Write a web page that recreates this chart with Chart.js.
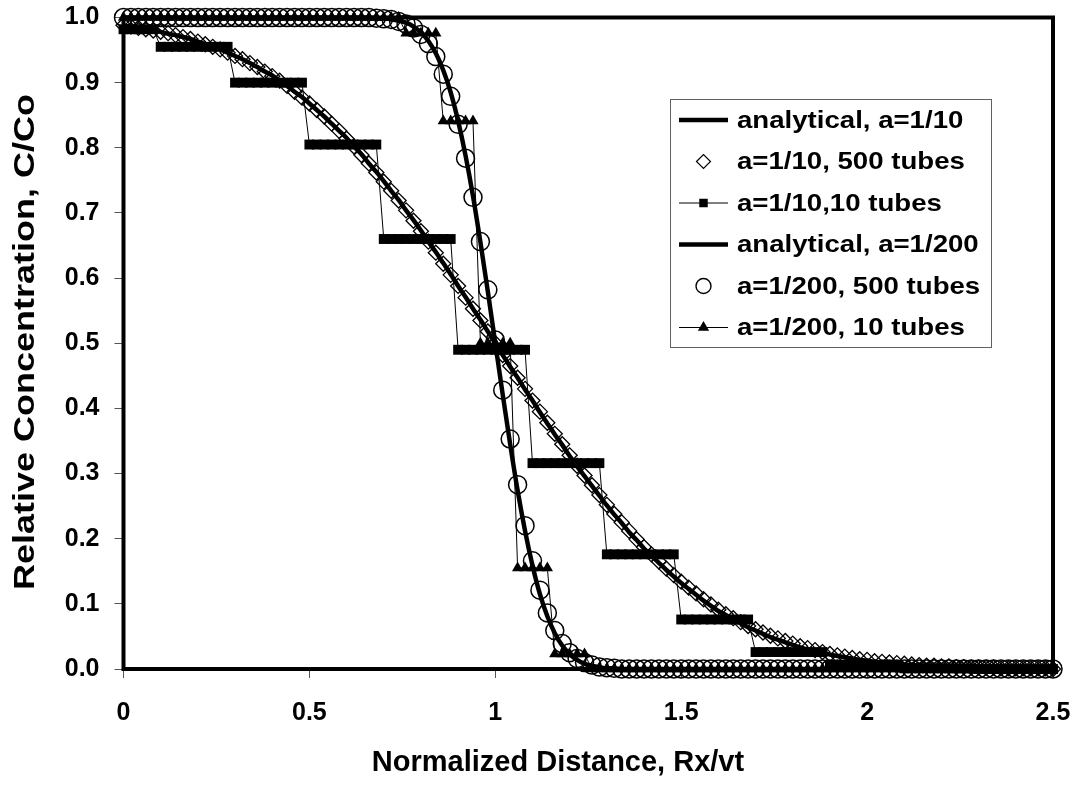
<!DOCTYPE html>
<html>
<head>
<meta charset="utf-8">
<script src="https://cdn.jsdelivr.net/npm/chart.js@4.4.1/dist/chart.umd.min.js"></script>
<style>
html, body { margin: 0; padding: 0; background: #fff; }
canvas { display: block; }
</style>
</head>
<body>
<canvas id="chart" width="1078" height="786"></canvas>
<script>
// normalized distance grid (Rx/vt)
const distance = [0,0.02,0.04,0.06,0.08,0.1,0.12,0.14,0.16,0.18,0.2,0.22,0.24,0.26,0.28,0.3,0.32,0.34,0.36,0.38,
  0.4,0.42,0.44,0.46,0.48,0.5,0.52,0.54,0.56,0.58,0.6,0.62,0.64,0.66,0.68,0.7,0.72,0.74,0.76,0.78,
  0.8,0.82,0.84,0.86,0.88,0.9,0.92,0.94,0.96,0.98,1,1.02,1.04,1.06,1.08,1.1,1.12,1.14,1.16,1.18,
  1.2,1.22,1.24,1.26,1.28,1.3,1.32,1.34,1.36,1.38,1.4,1.42,1.44,1.46,1.48,1.5,1.52,1.54,1.56,1.58,
  1.6,1.62,1.64,1.66,1.68,1.7,1.72,1.74,1.76,1.78,1.8,1.82,1.84,1.86,1.88,1.9,1.92,1.94,1.96,1.98,
  2,2.02,2.04,2.06,2.08,2.1,2.12,2.14,2.16,2.18,2.2,2.22,2.24,2.26,2.28,2.3,2.32,2.34,2.36,2.38,
  2.4,2.42,2.44,2.46,2.48,2.5];

// a = 1/10
const analytical10 = [0.987,0.986,0.984,0.982,0.980,0.978,0.975,0.973,0.970,0.967,0.963,0.959,0.955,0.951,0.946,0.941,0.936,0.930,0.924,0.917,
  0.911,0.903,0.895,0.886,0.878,0.868,0.858,0.848,0.837,0.826,0.815,0.802,0.790,0.776,0.763,0.749,0.734,0.720,0.704,0.689,
  0.673,0.656,0.640,0.623,0.606,0.588,0.571,0.553,0.536,0.518,0.500,0.482,0.464,0.447,0.429,0.412,0.394,0.377,0.360,0.344,
  0.327,0.311,0.296,0.281,0.266,0.251,0.237,0.224,0.210,0.198,0.185,0.174,0.163,0.152,0.142,0.132,0.123,0.114,0.105,0.097,
  0.089,0.083,0.076,0.070,0.064,0.059,0.054,0.049,0.045,0.041,0.037,0.033,0.030,0.027,0.025,0.022,0.020,0.018,0.016,0.014,
  0.013,0.011,0.010,0.009,0.008,0.007,0.006,0.005,0.005,0.004,0.004,0.003,0.003,0.003,0.002,0.002,0.002,0.001,0.001,0.001,
  0.001,0.001,0.001,0.001,0,0];
const tubes500a10 = [0.988,0.986,0.984,0.982,0.980,0.978,0.976,0.973,0.970,0.967,0.963,0.959,0.955,0.951,0.946,0.941,0.936,0.930,0.924,0.917,
  0.910,0.903,0.895,0.886,0.877,0.868,0.858,0.848,0.837,0.826,0.814,0.802,0.789,0.776,0.762,0.748,0.734,0.719,0.704,0.688,
  0.672,0.656,0.639,0.622,0.605,0.588,0.570,0.553,0.535,0.518,0.500,0.482,0.465,0.447,0.430,0.412,0.395,0.378,0.361,0.345,
  0.328,0.312,0.297,0.282,0.267,0.252,0.238,0.225,0.212,0.199,0.187,0.176,0.165,0.154,0.144,0.134,0.125,0.116,0.107,0.099,
  0.091,0.084,0.078,0.072,0.066,0.061,0.056,0.051,0.047,0.043,0.039,0.035,0.032,0.029,0.026,0.023,0.021,0.019,0.017,0.015,
  0.014,0.012,0.011,0.010,0.009,0.008,0.007,0.006,0.005,0.005,0.004,0.004,0.003,0.003,0.002,0.002,0.002,0.002,0.001,0.001,
  0.001,0.001,0.001,0.001,0.001,0];
const tubes10a10 = [0.982,0.982,0.982,0.982,0.982,
  0.955,0.955,0.955,0.955,0.955,0.955,0.955,0.955,0.955,0.955,
  0.900,0.900,0.900,0.900,0.900,0.900,0.900,0.900,0.900,0.900,
  0.805,0.805,0.805,0.805,0.805,0.805,0.805,0.805,0.805,0.805,
  0.660,0.660,0.660,0.660,0.660,0.660,0.660,0.660,0.660,0.660,
  0.490,0.490,0.490,0.490,0.490,0.490,0.490,0.490,0.490,0.490,
  0.316,0.316,0.316,0.316,0.316,0.316,0.316,0.316,0.316,0.316,
  0.176,0.176,0.176,0.176,0.176,0.176,0.176,0.176,0.176,0.176,
  0.076,0.076,0.076,0.076,0.076,0.076,0.076,0.076,0.076,0.076,
  0.026,0.026,0.026,0.026,0.026,0.026,0.026,0.026,0.026,0.026,
  0.006,0.006,0.006,0.006,0.006,0.006,0.006,0.006,0.006,0.006,
  0.001,0.001,0.001,0.001,0.001,0.001,0.001,0.001,0.001,0.001,
  0,0,0,0,0,0,0,0,0,0,0];

// a = 1/200
const analytical200 = [1,1,1,1,1,1,1,1,1,1,1,1,1,1,1,1,1,1,1,1,
  1,1,1,1,1,1,1,1,1,1,1,1,1,1,0.999,0.999,0.997,0.995,0.992,0.986,
  0.977,0.964,0.945,0.919,0.885,0.841,0.788,0.726,0.655,0.579,0.500,0.421,0.345,0.274,0.212,0.159,0.115,0.081,0.055,0.036,
  0.023,0.014,0.008,0.005,0.003,0.001,0.001,0,0,0,0,0,0,0,0,0,0,0,0,0,
  0,0,0,0,0,0,0,0,0,0,0,0,0,0,0,0,0,0,0,0,
  0,0,0,0,0,0,0,0,0,0,0,0,0,0,0,0,0,0,0,0,
  0,0,0,0,0,0];
const tubes500a200 = [1,1,1,1,1,1,1,1,1,1,1,1,1,1,1,1,1,1,1,1,
  1,1,1,1,1,1,1,1,1,1,1,1,1,1,0.999,0.998,0.997,0.994,0.990,0.984,
  0.974,0.960,0.940,0.913,0.879,0.836,0.784,0.724,0.656,0.582,0.505,0.428,0.353,0.283,0.220,0.166,0.121,0.086,0.059,0.039,
  0.025,0.016,0.010,0.006,0.003,0.002,0.001,0,0,0,0,0,0,0,0,0,0,0,0,0,
  0,0,0,0,0,0,0,0,0,0,0,0,0,0,0,0,0,0,0,0,
  0,0,0,0,0,0,0,0,0,0,0,0,0,0,0,0,0,0,0,0,
  0,0,0,0,0,0];
const tubes10a200 = [1,1,1,1,1,1,1,1,1,1,1,1,1,1,1,1,1,1,1,1,
  1,1,1,1,1,1,1,1,1,1,1,1,1,1,1,1,1,1,
  0.976,0.976,0.976,0.976,0.976,
  0.841,0.841,0.841,0.841,0.841,
  0.500,0.500,0.500,0.500,0.500,
  0.155,0.155,0.155,0.155,0.155,
  0.023,0.023,0.023,0.023,0.023,
  0,0,0,0,0,0,0,0,0,0,0,0,0,0,0,0,0,0,0,0,
  0,0,0,0,0,0,0,0,0,0,0,0,0,0,0,0,0,0,0,0,
  0,0,0,0,0,0,0,0,0,0,0,0,0,0,0,0,0,0,0,0,
  0,0,0];

const xTickLabels = ['0', '0.5', '1', '1.5', '2', '2.5'];
const yTickLabels = ['0.0', '0.1', '0.2', '0.3', '0.4', '0.5', '0.6', '0.7', '0.8', '0.9', '1.0'];
const xTitle = 'Normalized Distance, Rx/vt';
const yTitle = 'Relative Concentration, C/Co';

const FONT = '"Liberation Sans", Arial, sans-serif';
const pts = ys => distance.map((x, i) => ({ x: x, y: ys[i] }));
const hollow = 'rgba(0,0,0,0)';

// plot border, axis titles and the boxed legend
const framePlugin = {
  id: 'frame',
  beforeDatasetsDraw(chart) {
    const { ctx, chartArea: a } = chart;
    ctx.save();
    ctx.lineWidth = 4;
    ctx.strokeStyle = '#000';
    ctx.strokeRect(a.left, a.top, a.right - a.left, a.bottom - a.top);
    ctx.restore();
  },
  afterDraw(chart) {
    const ctx = chart.ctx;
    ctx.save();
    ctx.fillStyle = '#000';
    ctx.textAlign = 'center';
    ctx.textBaseline = 'middle';
    ctx.font = 'bold 29px ' + FONT;
    ctx.fillText(xTitle, 558, 763);
    ctx.font = 'bold 30px ' + FONT;
    ctx.translate(26, 342);
    ctx.rotate(-Math.PI / 2);
    ctx.scale(1.2, 1);
    ctx.fillText(yTitle, 0, 0);
    ctx.restore();

    // legend
    const left = 670, top = 99, w = 321, h = 248;
    ctx.save();
    ctx.fillStyle = '#fff';
    ctx.fillRect(left, top, w, h);
    ctx.strokeStyle = '#606060';
    ctx.lineWidth = 1;
    ctx.strokeRect(left + 0.5, top + 0.5, w, h);
    chart.data.datasets.forEach((ds, i) => {
      const y = 120 + i * 41.5;
      ctx.strokeStyle = '#000';
      if (ds.showLine !== false) {
        ctx.lineWidth = ds.borderWidth;
        ctx.beginPath();
        ctx.moveTo(679, y);
        ctx.lineTo(728, y);
        ctx.stroke();
      }
      if (ds.pointRadius > 0) {
        ctx.fillStyle = ds.pointBackgroundColor;
        ctx.lineWidth = ds.legendBorder;
        Chart.helpers.drawPoint(ctx, {
          pointStyle: ds.pointStyle,
          radius: ds.legendRadius,
          rotation: 0,
          borderWidth: ds.legendBorder
        }, 703.5, y);
      }
      ctx.fillStyle = '#000';
      ctx.font = 'bold 24px ' + FONT;
      ctx.textAlign = 'left';
      ctx.textBaseline = 'middle';
      ctx.save();
      ctx.translate(737, y + 1);
      ctx.scale(1.15, 1);
      ctx.fillText(ds.label, 0, 0);
      ctx.restore();
    });
    ctx.restore();
  }
};

const tickFont = { family: FONT, size: 25, weight: 'bold' };

new Chart(document.getElementById('chart'), {
  type: 'line',
  data: {
    datasets: [
      {
        label: 'analytical, a=1/10',
        data: pts(analytical10),
        borderColor: '#000',
        borderWidth: 4.5,
        pointRadius: 0,
        cubicInterpolationMode: 'monotone',
        clip: false
      },
      {
        label: 'a=1/10, 500 tubes',
        data: pts(tubes500a10),
        showLine: false,
        pointStyle: 'rectRot',
        pointRadius: 7.5,
        legendRadius: 7,
        legendBorder: 1.2,
        pointBorderWidth: 1.3,
        pointBorderColor: '#000',
        pointBackgroundColor: hollow,
        clip: false
      },
      {
        label: 'a=1/10,10 tubes',
        data: pts(tubes10a10),
        borderColor: '#000',
        borderWidth: 1,
        pointStyle: 'rect',
        pointRadius: 7,
        legendRadius: 6,
        legendBorder: 0,
        pointBorderWidth: 0,
        pointBorderColor: '#000',
        pointBackgroundColor: '#000',
        clip: false
      },
      {
        label: 'analytical, a=1/200',
        data: pts(analytical200),
        borderColor: '#000',
        borderWidth: 4.5,
        pointRadius: 0,
        cubicInterpolationMode: 'monotone',
        clip: false
      },
      {
        label: 'a=1/200, 500 tubes',
        data: pts(tubes500a200),
        showLine: false,
        pointStyle: 'circle',
        pointRadius: 9,
        legendRadius: 7.5,
        legendBorder: 1.4,
        pointBorderWidth: 1.5,
        pointBorderColor: '#000',
        pointBackgroundColor: hollow,
        clip: false
      },
      {
        label: 'a=1/200, 10 tubes',
        data: pts(tubes10a200),
        borderColor: '#000',
        borderWidth: 1,
        pointStyle: 'triangle',
        pointRadius: 6.5,
        legendRadius: 6.5,
        legendBorder: 0,
        pointBorderWidth: 0,
        pointBorderColor: '#000',
        pointBackgroundColor: '#000',
        clip: false
      }
    ]
  },
  options: {
    responsive: false,
    animation: false,
    events: [],
    layout: { padding: { top: 17.5, right: 25, left: 0, bottom: 0 } },
    plugins: { legend: { display: false }, tooltip: { enabled: false } },
    scales: {
      x: {
        type: 'linear',
        min: 0,
        max: 2.5,
        ticks: {
          stepSize: 0.5,
          color: '#000',
          font: tickFont,
          padding: 20,
          maxRotation: 0,
          callback: (v, i) => xTickLabels[i]
        },
        grid: { drawOnChartArea: false, tickLength: 9, tickColor: '#555', lineWidth: 1 },
        border: { display: false },
        afterFit(s) { s.height = 117; s.paddingLeft = 0; s.paddingRight = 0; }
      },
      y: {
        min: 0,
        max: 1,
        ticks: {
          stepSize: 0.1,
          color: '#000',
          font: tickFont,
          padding: 15,
          callback: (v, i) => yTickLabels[i]
        },
        grid: { drawOnChartArea: false, tickLength: 9, tickColor: '#555', lineWidth: 1 },
        border: { display: false },
        afterFit(s) { s.width = 123.5; s.paddingTop = 0; s.paddingBottom = 0; }
      }
    }
  },
  plugins: [framePlugin]
});
</script>
</body>
</html>
